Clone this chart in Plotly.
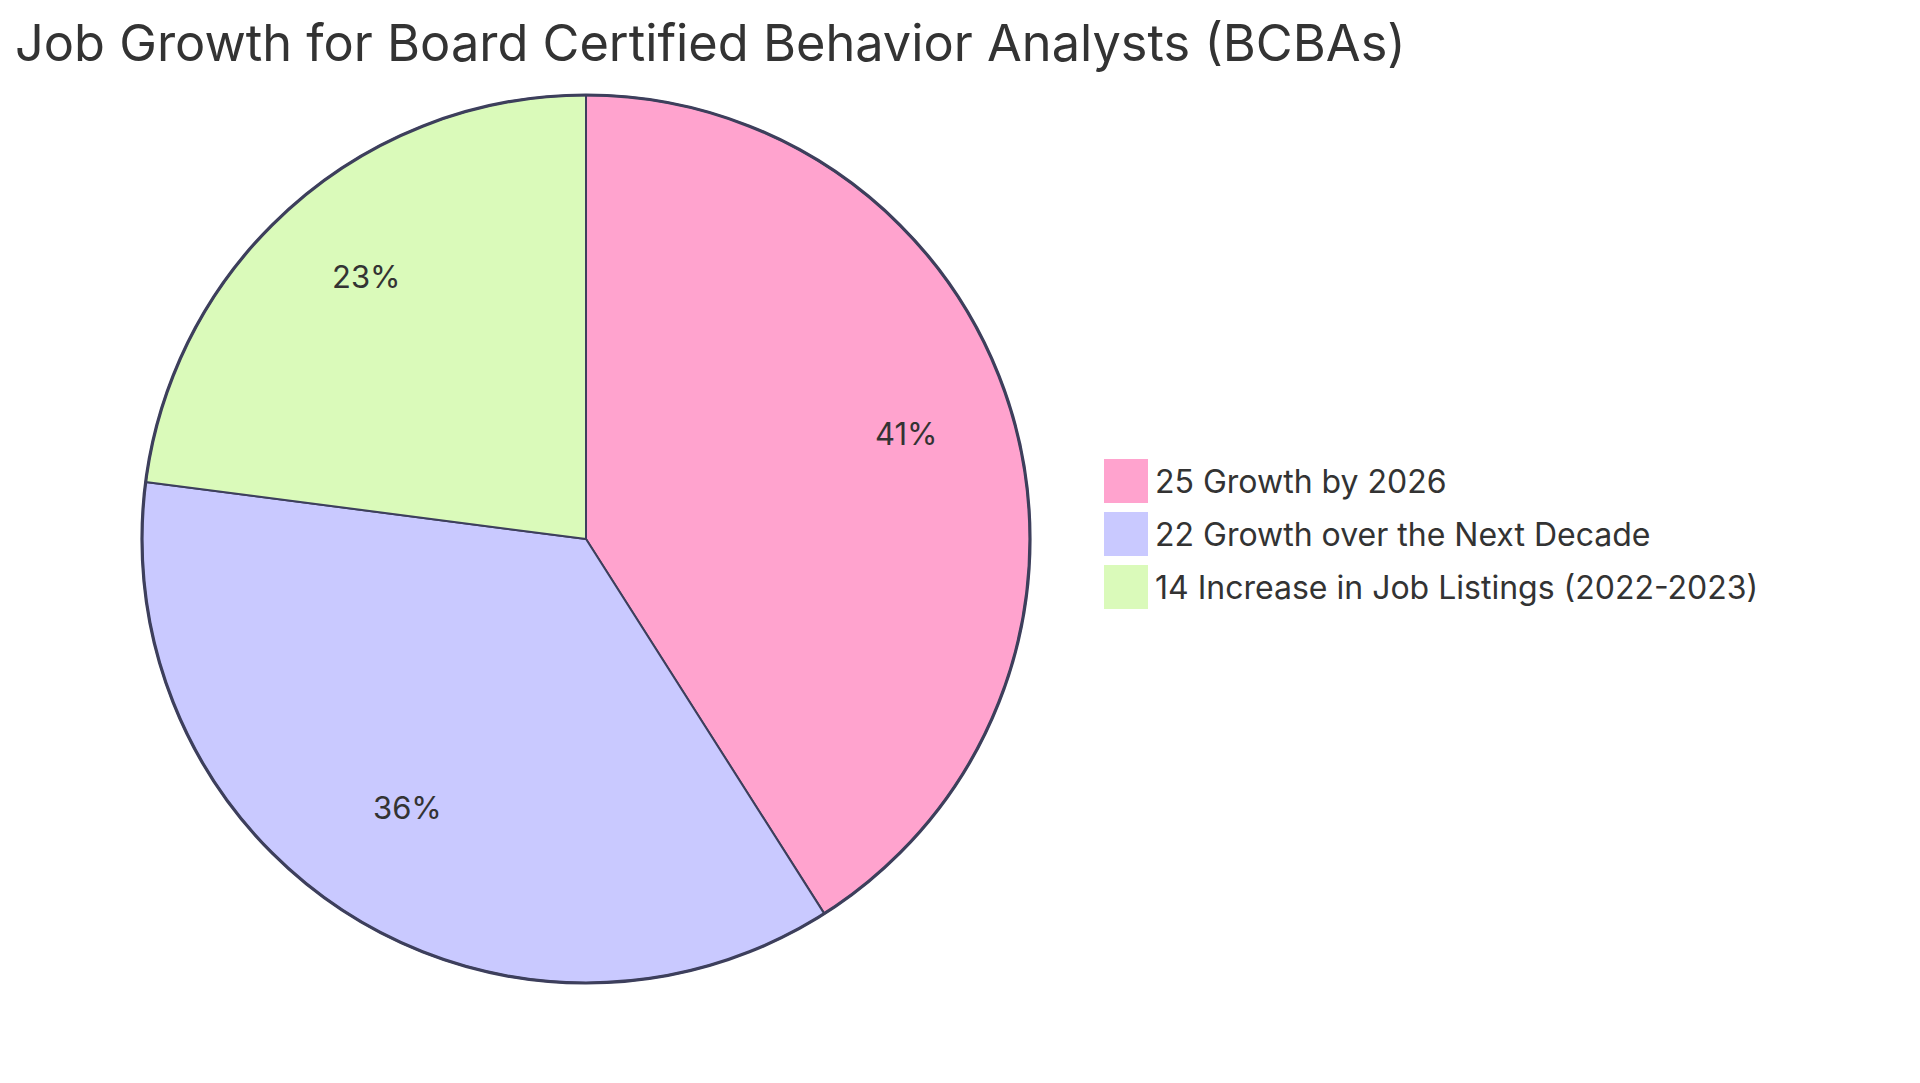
import math
import plotly.graph_objects as go

# ── data ──
labels = ["Growth by 2026", "Growth over the Next Decade", "Increase in Job Listings (2022-2023)"]
values = [25, 22, 14]
colors = ["#FFA3CE", "#C9C9FF", "#DAFABA"]

TITLE = "Job Growth for Board Certified Behavior Analysts (BCBAs)"
FONT = "Inter, Lato, sans-serif"
TEXT_COLOR = "#333333"
STROKE = "#3D3F5C"

W, H = 1920, 1083
OFF = 8  # page body margin shifts everything by 8px

# pie geometry (pixels, screen coords)
cx, cy, r = 586 - OFF, 539 - OFF, 444

fig = go.Figure(go.Pie(
    labels=[f"{v} {l}" for v, l in zip(values, labels)],
    values=values,
    sort=False,
    direction="clockwise",
    rotation=0,
    marker=dict(colors=colors, line=dict(color=STROKE, width=2)),
    textinfo="none",
    hoverinfo="label+percent",
    showlegend=False,
    domain=dict(x=[(cx - r) / W, (cx + r) / W], y=[1 - (cy + r) / H, 1 - (cy - r) / H]),
))

annotations = []
shapes = []

# thicker outer ring like the original
shapes.append(dict(
    type="circle", xref="paper", yref="paper",
    x0=(cx - r) / W, x1=(cx + r) / W, y0=1 - (cy + r) / H, y1=1 - (cy - r) / H,
    line=dict(color=STROKE, width=3.2),
))

# percentage labels at 3/4 of the radius, middle of each slice
total = sum(values)
acc = 0
for v in values:
    mid = (acc + v / 2) / total * 2 * math.pi
    acc += v
    px_ = cx + 0.75 * r * math.sin(mid)
    py_ = cy - 0.75 * r * math.cos(mid) - 12
    annotations.append(dict(
        x=px_ / W, y=1 - py_ / H, xref="paper", yref="paper",
        text=f"{round(v / total * 100)}%", showarrow=False,
        font=dict(family=FONT, size=31, color=TEXT_COLOR),
        xanchor="center", yanchor="middle",
    ))

# legend (manual, big square swatches)
lx, ly0, step, box = 1104 - OFF, 481 - OFF, 53, 44
for i, (v, l, c) in enumerate(zip(values, labels, colors)):
    yc = ly0 + i * step
    shapes.append(dict(
        type="rect", xref="paper", yref="paper",
        x0=lx / W, x1=(lx + box) / W,
        y0=1 - (yc - box / 2) / H, y1=1 - (yc + box / 2) / H,
        fillcolor=c, line=dict(width=0),
    ))
    annotations.append(dict(
        x=(lx + box + 5) / W, y=1 - yc / H, xref="paper", yref="paper",
        text=f"{v} {l}", showarrow=False,
        font=dict(family=FONT, size=32, color=TEXT_COLOR),
        xanchor="left", yanchor="middle",
    ))

fig.update_layout(
    width=W, height=H,
    margin=dict(l=0, r=0, t=0, b=0),
    paper_bgcolor="white",
    plot_bgcolor="white",
    title=dict(
        text=TITLE, x=(15 - OFF) / W, xanchor="left", xref="container",
        y=1 - (43 - OFF) / H, yanchor="middle", yref="container",
        font=dict(family=FONT, size=50.5, color=TEXT_COLOR),
    ),
    annotations=annotations,
    shapes=shapes,
)

fig.write_html("out.html")
